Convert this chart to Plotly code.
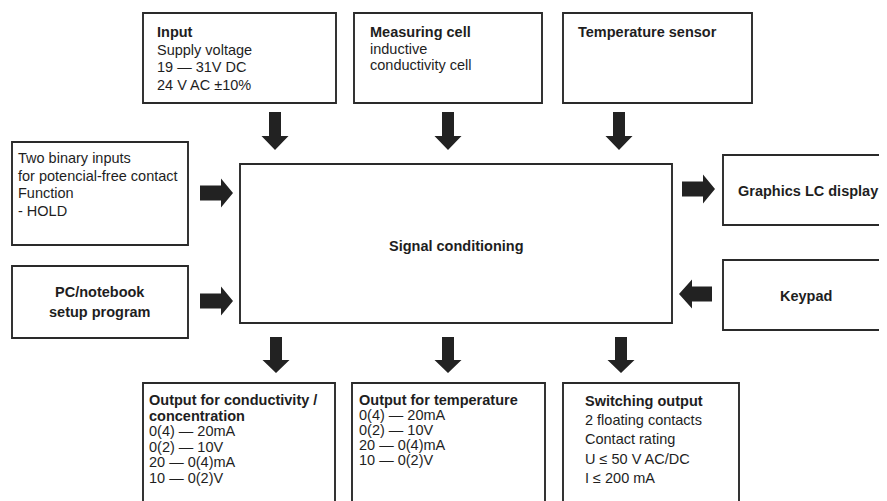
import plotly.graph_objects as go

# ---- text content ----
input_lines = ["<b>Input</b>", "Supply voltage", "19 — 31V DC", "24 V AC ±10%"]
cell_lines = ["<b>Measuring cell</b>", "inductive", "conductivity cell"]
temp_lines = ["<b>Temperature sensor</b>"]
binary_lines = ["Two binary inputs", "for potencial-free contact", "Function", "- HOLD"]
pc_lines = ["<b>PC/notebook</b>", "<b>setup program</b>"]
center_lines = ["<b>Signal conditioning</b>"]
display_lines = ["<b>Graphics LC display</b>"]
keypad_lines = ["<b>Keypad</b>"]
out_cond_lines = ["<b>Output for conductivity /</b>", "<b>concentration</b>", "0(4) — 20mA",
                  "0(2) — 10V", "20 — 0(4)mA", "10 — 0(2)V"]
out_temp_lines = ["<b>Output for temperature</b>", "0(4) — 20mA", "0(2) — 10V",
                  "20 — 0(4)mA", "10 — 0(2)V"]
switch_lines = ["<b>Switching output</b>", "2 floating contacts", "Contact rating",
                "U ≤ 50 V AC/DC", "I ≤ 200 mA"]

W, H = 887, 501
OFF = 8  # default page body margin
FONT = "Liberation Sans, Arial, Helvetica, sans-serif"
LINE = "#2a2a2a"
FILL = "#222222"

# ---- layout geometry (page pixel units) ----
boxes = [
    # (x0, y0, x1, y1, lines, text_x, text_y0, spacing, align)
    (143, 13, 336, 103, input_lines, 155, 32, 17.5, "left"),
    (354, 13, 542, 103, cell_lines, 368, 32, 16.5, "left"),
    (563, 13, 752, 103, temp_lines, 576, 32, 17, "left"),
    (12, 142, 188, 245, binary_lines, 16, 158, 17.5, "left"),
    (12, 266, 188, 338, pc_lines, 100, 292, 20, "center"),
    (240, 164, 672, 323, center_lines, 456, 246, 17, "center"),
    (723, 155, 905, 225, display_lines, 736, 191, 17, "left"),
    (723, 260, 905, 330, keypad_lines, 806, 296, 17, "center"),
    (143, 383, 335, 520, out_cond_lines, 147, 400, 15.6, "left"),
    (352, 383, 545, 520, out_temp_lines, 357, 400, 15.1, "left"),
    (563, 383, 739, 520, switch_lines, 583, 401, 19.2, "left"),
]

# down arrows: (cx, y_top, y_head, y_tip)
down_arrows = [
    (275, 112, 136, 150), (448, 112, 136, 150), (619, 112, 136, 150),
    (276, 337, 360, 373), (448, 337, 360, 373), (621, 337, 360, 373),
]
# horizontal arrows: (cy, x_tail, x_head, x_tip)
h_arrows = [
    (193, 200, 221, 233), (301, 200, 221, 233),
    (189, 682, 703, 715), (294, 712, 692, 679),
]
VS, VH = 6, 13.5   # half shaft width, half head width (vertical)
HS, HH = 7.5, 14.5  # horizontal

fig = go.Figure()
fig.add_trace(go.Scatter(x=[OFF, W], y=[OFF, H], mode="markers",
                         marker=dict(opacity=0), hoverinfo="skip", showlegend=False))

shapes = []
annotations = []
for (x0, y0, x1, y1, lines, tx, ty, sp, align) in boxes:
    shapes.append(dict(type="rect", x0=x0, y0=y0, x1=x1, y1=y1,
                       line=dict(color=LINE, width=1.9), fillcolor="white", layer="below"))
    for i, t in enumerate(lines):
        annotations.append(dict(x=tx, y=ty + i * sp, text=t, showarrow=False,
                                xanchor="left" if align == "left" else "center",
                                yanchor="middle",
                                font=dict(family=FONT, size=14.5, color="#1e1e1e")))

for (cx, yt, yh, yp) in down_arrows:
    p = (f"M{cx-VS},{yt} L{cx+VS},{yt} L{cx+VS},{yh} L{cx+VH},{yh} "
         f"L{cx},{yp} L{cx-VH},{yh} L{cx-VS},{yh} Z")
    shapes.append(dict(type="path", path=p, fillcolor=FILL, line=dict(width=0)))

for (cy, xt, xh, xp) in h_arrows:
    p = (f"M{xt},{cy-HS} L{xh},{cy-HS} L{xh},{cy-HH} L{xp},{cy} "
         f"L{xh},{cy+HH} L{xh},{cy+HS} L{xt},{cy+HS} Z")
    shapes.append(dict(type="path", path=p, fillcolor=FILL, line=dict(width=0)))

fig.update_layout(
    width=W - OFF, height=H - OFF, margin=dict(l=0, r=0, t=0, b=0),
    paper_bgcolor="white", plot_bgcolor="white",
    xaxis=dict(range=[OFF, W], visible=False, fixedrange=True),
    yaxis=dict(range=[H, OFF], visible=False, fixedrange=True),
    shapes=shapes, annotations=annotations, showlegend=False,
)
fig.write_html("out.html")
